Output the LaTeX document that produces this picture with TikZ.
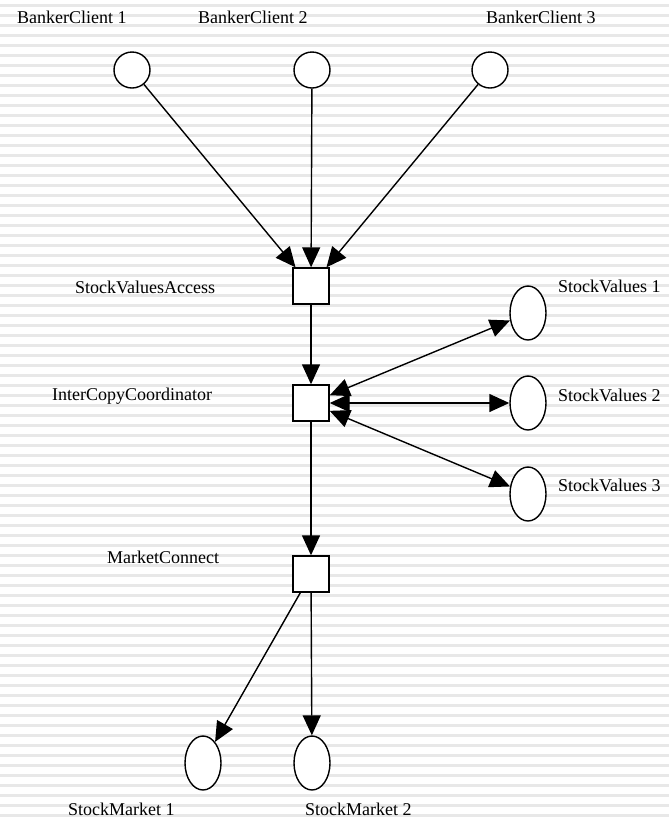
\documentclass[tikz,border=0pt]{standalone}
\usepackage{fontspec}
\setmainfont{Liberation Serif}
\usetikzlibrary{arrows.meta,shapes.geometric}

\begin{document}
\begin{tikzpicture}[x=1pt,y=-1pt,
  place/.style={circle,draw,line width=1.4pt,fill=white,minimum size=36pt,inner sep=0pt},
  store/.style={ellipse,draw,line width=1.4pt,fill=white,minimum width=36pt,minimum height=54pt,inner sep=0pt},
  trans/.style={rectangle,draw,line width=1.4pt,fill=white,minimum size=36pt,inner sep=0pt},
  lbl/.style={anchor=base west,inner sep=0pt,font=\fontsize{18}{20}\selectfont},
  arc/.style={-{Triangle[length=20pt,width=18pt]},line width=1.4pt},
  biarc/.style={{Triangle[length=20pt,width=18pt]}-{Triangle[length=20pt,width=18pt]},line width=1.4pt}]

% striped background
\useasboundingbox (0,0) rectangle (669,820);
\fill[white] (0,0) rectangle (669,820);
\foreach \s in {0,10,...,810}
  \fill[gray!18] (0,\s+4) rectangle (669,\s+7);

% places
\node[place] (bc1) at (132,70) {};
\node[place] (bc2) at (312,70) {};
\node[place] (bc3) at (490,70) {};
\node[store] (sv1) at (528,313) {};
\node[store] (sv2) at (528,403) {};
\node[store] (sv3) at (528,494) {};
\node[store] (sm1) at (203,763) {};
\node[store] (sm2) at (312,763) {};

% transitions
\node[trans] (sva) at (311,286) {};
\node[trans] (icc) at (311,403) {};
\node[trans] (mc) at (311,574) {};

% labels
\node[lbl] (lbc1) at (17,23) {BankerClient 1};
\node[lbl] (lbc2) at (198,23) {BankerClient 2};
\node[lbl] (lbc3) at (486,23) {BankerClient 3};
\node[lbl] (lsva) at (75,293) {StockValuesAccess};
\node[lbl] (licc) at (52,400) {InterCopyCoordinator};
\node[lbl] (lmc) at (107,563) {MarketConnect};
\node[lbl] (lsv1) at (558,292) {StockValues 1};
\node[lbl] (lsv2) at (558,401) {StockValues 2};
\node[lbl] (lsv3) at (558,491) {StockValues 3};
\node[lbl] (lsm1) at (68,815) {StockMarket 1};
\node[lbl] (lsm2) at (305,815) {StockMarket 2};

% arcs
\draw[arc] (bc1) -- (sva);
\draw[arc] (bc2) -- (sva);
\draw[arc] (bc3) -- (sva);
\draw[arc] (sva) -- (icc);
\draw[biarc] (icc) -- (sv1);
\draw[biarc] (icc) -- (sv2);
\draw[biarc] (icc) -- (sv3);
\draw[arc] (icc) -- (mc);
\draw[arc] (mc) -- (sm1);
\draw[arc] (mc) -- (sm2);
\end{tikzpicture}
\end{document}
